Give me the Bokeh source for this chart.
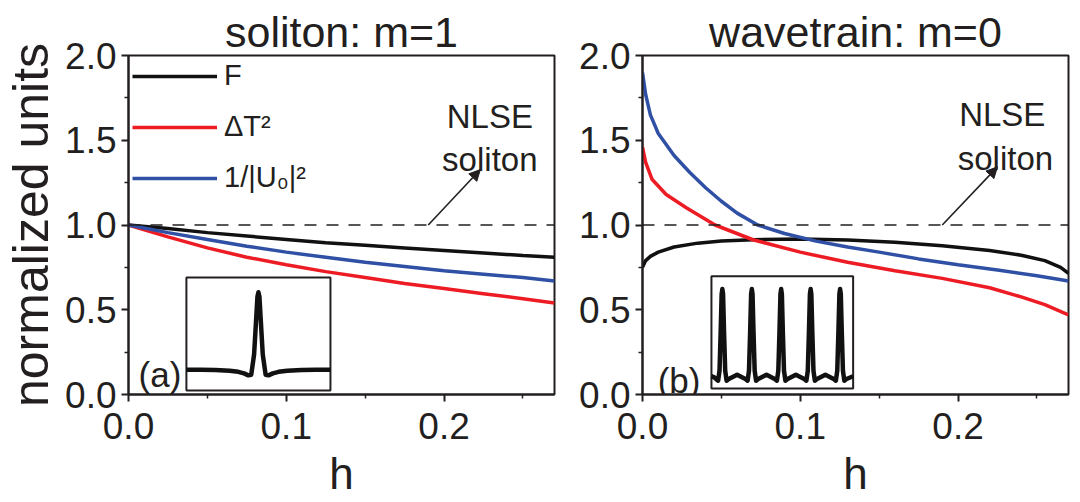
from bokeh.plotting import figure
from bokeh.models import (Range1d, FixedTicker, PrintfTickFormatter, Label, Arrow,
                          NormalHead, Legend, LegendItem, Span)
from bokeh.layouts import row
from bokeh.embed import file_html
from bokeh.resources import INLINE

# ---------------- data ----------------
titles = ["soliton: m=1", "wavetrain: m=0"]
x_label = "h"
y_label = "normalized units"
legend_labels = ["F", "ΔT²", "1/|U₀|²"]
x_ticks = [0.0, 0.1, 0.2]
x_minor = [0.05, 0.15, 0.25]
y_ticks = [0.0, 0.5, 1.0, 1.5, 2.0]
y_minor = [0.25, 0.75, 1.25, 1.75]
nlse_level = 1.0

# panel (a): soliton m=1
h_left = [0, 0.025, 0.05, 0.075, 0.1, 0.125, 0.15, 0.175, 0.2, 0.225, 0.25, 0.27]
F_left = [1.0, 0.98, 0.955, 0.935, 0.915, 0.895, 0.88, 0.865, 0.85, 0.835, 0.82, 0.81]
dT2_left = [1.0, 0.93, 0.865, 0.81, 0.765, 0.725, 0.69, 0.655, 0.625, 0.595, 0.565, 0.54]
invU_left = [1.0, 0.955, 0.915, 0.875, 0.84, 0.81, 0.78, 0.755, 0.73, 0.71, 0.69, 0.67]

# panel (b): wavetrain m=0
h_F_right = [0, 0.002, 0.005, 0.01, 0.02, 0.035, 0.05, 0.07, 0.1, 0.13, 0.16, 0.19, 0.22, 0.24, 0.255, 0.265, 0.27]
F_right = [0.75, 0.79, 0.815, 0.84, 0.87, 0.893, 0.905, 0.913, 0.918, 0.912, 0.898, 0.878, 0.85, 0.822, 0.79, 0.75, 0.715]
h_dT2_right = [0, 0.002, 0.006, 0.015, 0.028, 0.046, 0.07, 0.1, 0.13, 0.16, 0.19, 0.22, 0.24, 0.255, 0.27]
dT2_right = [1.46, 1.37, 1.27, 1.18, 1.10, 1.0, 0.913, 0.84, 0.78, 0.73, 0.685, 0.63, 0.576, 0.53, 0.47]
h_U_right = [0, 0.002, 0.005, 0.01, 0.02, 0.03, 0.04, 0.05, 0.06, 0.073, 0.09, 0.11, 0.13, 0.15, 0.175, 0.2, 0.225, 0.25, 0.27]
U_right = [1.90, 1.77, 1.65, 1.54, 1.41, 1.31, 1.22, 1.14, 1.07, 1.0, 0.95, 0.905, 0.87, 0.84, 0.80, 0.765, 0.735, 0.70, 0.67]

# inset (a): single soliton profile (normalised inset units)
inset_a_x = [0, 0.1, 0.2, 0.3, 0.36, 0.40, 0.43, 0.45, 0.47, 0.485, 0.493, 0.5, 0.507, 0.515,
             0.53, 0.55, 0.57, 0.60, 0.64, 0.7, 0.8, 0.9, 1.0]
inset_a_y = [0.184, 0.184, 0.182, 0.176, 0.166, 0.152, 0.135, 0.14, 0.32, 0.65, 0.83, 0.87, 0.83, 0.65,
             0.32, 0.14, 0.135, 0.152, 0.166, 0.176, 0.182, 0.184, 0.184]

# inset (b): wavetrain profile (normalised inset units)
inset_b_x = [0.0, 0.02,
             0.032, 0.047, 0.057, 0.065, 0.072, 0.077, 0.082, 0.089, 0.097, 0.107, 0.122, 0.181,
             0.240, 0.255, 0.265, 0.273, 0.280, 0.285, 0.290, 0.297, 0.305, 0.315, 0.330, 0.389,
             0.447, 0.462, 0.472, 0.480, 0.487, 0.492, 0.497, 0.504, 0.512, 0.522, 0.537, 0.596,
             0.655, 0.670, 0.680, 0.688, 0.695, 0.700, 0.705, 0.712, 0.720, 0.730, 0.745, 0.804,
             0.863, 0.878, 0.888, 0.896, 0.903, 0.908, 0.913, 0.920, 0.928, 0.938, 0.953, 1.0]
inset_b_y = [0.11, 0.10,
             0.085, 0.07, 0.16, 0.5, 0.84, 0.886, 0.84, 0.5, 0.16, 0.07, 0.085, 0.123,
             0.085, 0.07, 0.16, 0.5, 0.84, 0.886, 0.84, 0.5, 0.16, 0.07, 0.085, 0.123,
             0.085, 0.07, 0.16, 0.5, 0.84, 0.886, 0.84, 0.5, 0.16, 0.07, 0.085, 0.123,
             0.085, 0.07, 0.16, 0.5, 0.84, 0.886, 0.84, 0.5, 0.16, 0.07, 0.085, 0.123,
             0.085, 0.07, 0.16, 0.5, 0.84, 0.886, 0.84, 0.5, 0.16, 0.07, 0.085, 0.11]

# ---------------- style ----------------
FONT = "Liberation Sans"
TXT = "#231F20"
BLACK = "#111111"
RED = "#ED1C24"
BLUE = "#2F50A4"
LW = 3.5


def make_panel(width, mb_left, mb_right, mb_top, mb_bottom, title):
    p = figure(width=width, height=502, output_backend="svg", toolbar_location=None,
               x_range=Range1d(0, 0.27), y_range=Range1d(0, 2.0),
               min_border_left=mb_left, min_border_right=mb_right,
               min_border_top=mb_top, min_border_bottom=mb_bottom)
    p.title.text = title
    p.title.align = "center"
    p.title.text_font = FONT
    p.title.text_font_size = "43px"
    p.title.text_font_style = "normal"
    p.title.text_color = TXT
    p.title.standoff = 0
    p.grid.visible = False
    p.outline_line_color = TXT
    p.outline_line_width = 2
    p.outline_line_alpha = 1
    p.background_fill_color = "white"
    p.border_fill_color = "white"
    for ax, maj, mnr in ((p.xaxis[0], x_ticks, x_minor), (p.yaxis[0], y_ticks, y_minor)):
        ax.ticker = FixedTicker(ticks=maj, minor_ticks=mnr)
        ax.formatter = PrintfTickFormatter(format="%.1f")
        ax.axis_line_width = 2
        ax.axis_line_color = TXT
        ax.major_tick_line_color = TXT
        ax.minor_tick_line_color = TXT
        ax.major_tick_line_width = 2
        ax.minor_tick_line_width = 1.5
        ax.major_tick_in = 0
        ax.major_tick_out = 7
        ax.minor_tick_in = 0
        ax.minor_tick_out = 4
        ax.major_label_text_font = FONT
        ax.major_label_text_font_size = "37px"
        ax.major_label_text_color = TXT
        ax.axis_label_text_font = FONT
        ax.axis_label_text_font_style = "normal"
        ax.axis_label_text_color = TXT
    p.xaxis.major_label_standoff = 11
    p.yaxis.major_label_standoff = 5
    p.xaxis.axis_label = x_label
    p.xaxis.axis_label_text_font_size = "44px"
    p.xaxis.axis_label_standoff = 7
    p.add_layout(Span(location=nlse_level, dimension="width", line_color=TXT,
                      line_width=1.6, line_dash="12 10"))
    return p


def add_text(p, x, y, text, size, align="center"):
    p.add_layout(Label(x=x, y=y, text=text, text_font=FONT, text_font_size=size,
                       text_color=TXT, text_align=align, text_baseline="alphabetic"))


def add_inset(p, box, xs, ys, tag, tag_xy):
    x0, x1, y0, y1 = box
    p.quad(left=[x0], right=[x1], bottom=[y0], top=[y1], fill_color="white",
           line_color=TXT, line_width=2)
    p.line([x0 + v * (x1 - x0) for v in xs], [y0 + v * (y1 - y0) for v in ys],
           line_color=BLACK, line_width=4.5, line_join="round")
    add_text(p, tag_xy[0], tag_xy[1], tag, "35px", align="right")


# ---------------- left panel ----------------
pl = make_panel(575, 127, 21, 52, 108, titles[0])
pl.yaxis.axis_label = y_label
pl.yaxis.axis_label_text_font_size = "50px"
pl.yaxis.axis_label_standoff = 3
rF = pl.line(h_left, F_left, line_color=BLACK, line_width=LW)
rT = pl.line(h_left, dT2_left, line_color=RED, line_width=LW)
rU = pl.line(h_left, invU_left, line_color=BLUE, line_width=LW)
legend = Legend(items=[LegendItem(label=legend_labels[0], renderers=[rF]),
                       LegendItem(label=legend_labels[1], renderers=[rT]),
                       LegendItem(label=legend_labels[2], renderers=[rU])],
                location="top_left", border_line_color=None, background_fill_alpha=0,
                label_text_font=FONT, label_text_font_size="29px", label_text_color=TXT,
                glyph_width=85, glyph_height=28, label_standoff=7, spacing=18,
                margin=4, padding=7)
pl.add_layout(legend)
add_inset(pl, (0.0367, 0.128, 0.023, 0.69), inset_a_x, inset_a_y, "(a)", (0.0335, 0.117))
pl.add_layout(Arrow(end=NormalHead(size=11, fill_color=TXT, line_color=TXT),
                    x_start=0.190, y_start=nlse_level, x_end=0.223, y_end=1.327,
                    line_color=TXT, line_width=1.6))
add_text(pl, 0.229, 1.643, "NLSE", "33px")
add_text(pl, 0.229, 1.386, "soliton", "33px")

# ---------------- right panel ----------------
pr = make_panel(497, 67, 4, 55, 103, titles[1])
pr.line(h_F_right, F_right, line_color=BLACK, line_width=LW)
pr.line(h_dT2_right, dT2_right, line_color=RED, line_width=LW)
pr.line(h_U_right, U_right, line_color=BLUE, line_width=LW)
add_inset(pr, (0.0437, 0.1335, 0.035, 0.698), inset_b_x, inset_b_y, "(b)", (0.0367, 0.081))
pr.add_layout(Arrow(end=NormalHead(size=11, fill_color=TXT, line_color=TXT),
                    x_start=0.190, y_start=nlse_level, x_end=0.225, y_end=1.343,
                    line_color=TXT, line_width=1.6))
add_text(pr, 0.228, 1.651, "NLSE", "33px")
add_text(pr, 0.230, 1.39, "soliton", "33px")

layout = row(pl, pr)
open("out.html", "w").write(file_html(layout, INLINE))
